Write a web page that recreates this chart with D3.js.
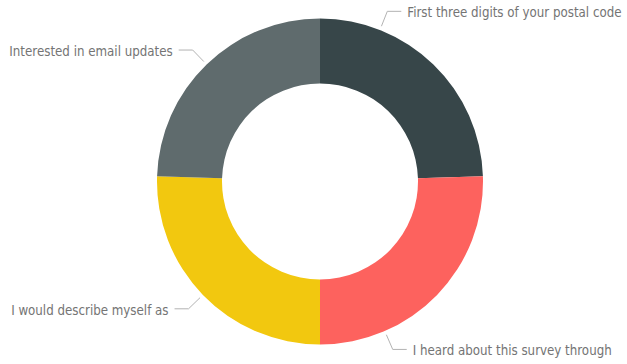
<!DOCTYPE html>
<html>
<head>
<meta charset="utf-8">
<style>
  body { margin: 0; background: #fff; }
  .lbl { font-family: 'DejaVu Sans Condensed', sans-serif; font-size: 13.2px; fill: #747474; }
</style>
</head>
<body>
<svg id="chart" width="627" height="364"></svg>
<script src="https://cdn.jsdelivr.net/npm/d3@7"></script>
<script>
// survey fields (count of responses)
const categories = [
  "First three digits of your postal code",
  "I heard about this survey through",
  "I would describe myself as",
  "Interested in email updates"
];
const counts = [24, 25, 25, 24];
const colors = ["#374649", "#FD625E", "#F2C80F", "#5F6B6D"];

const width = 627, height = 364;
const cx = 320, cy = 181.5;
const outerR = 163, innerR = 98;

const data = categories.map((c, i) => ({ name: c, value: counts[i], color: colors[i] }));

const svg = d3.select("#chart");
const g = svg.append("g").attr("transform", `translate(${cx},${cy})`);

const pie = d3.pie().sort(null).value(d => d.value);
const arc = d3.arc().innerRadius(innerR).outerRadius(outerR);
const arcs = pie(data);

g.selectAll("path.slice").data(arcs).enter().append("path")
  .attr("class", "slice")
  .attr("d", arc)
  .attr("fill", d => d.data.color);

// labels with leader lines
const elbowR = outerR + 20;
const lineStart = d3.arc().innerRadius(outerR + 4).outerRadius(outerR + 4);
const lineElbow = d3.arc().innerRadius(elbowR).outerRadius(elbowR);

const labels = g.selectAll("g.label").data(arcs).enter().append("g").attr("class", "label");

labels.each(function(d) {
  const sel = d3.select(this);
  const text = sel.append("text").attr("class", "lbl").attr("dy", "0.36em").text(d.data.name);
  const tw = text.node().getComputedTextLength();
  let a = (d.startAngle + d.endAngle) / 2;
  const right = a < Math.PI;
  // rotate the anchor toward the vertical until the text fits in the frame
  for (let k = 0; k < 4; k++) {
    const ex = elbowR * Math.sin(a);
    const room = right ? (width - cx) - (ex + 21) : (cx + ex) - 21;
    if (room >= tw + 2) break;
    const target = right ? (a < Math.PI / 2 ? 0 : Math.PI) : (a < 3 * Math.PI / 2 ? Math.PI : 2 * Math.PI);
    a += Math.sign(target - a) * Math.PI / 8;
  }
  const p0 = lineStart.centroid({ startAngle: a, endAngle: a });
  const p1 = lineElbow.centroid({ startAngle: a, endAngle: a });
  const p2 = [p1[0] + (right ? 14 : -14), p1[1]];
  sel.insert("polyline", "text")
    .attr("points", [p0, p1, p2].map(p => p.join(",")).join(" "))
    .attr("fill", "none")
    .attr("stroke", "#b3b3b3")
    .attr("stroke-width", 1);
  text.attr("x", p2[0] + (right ? 6 : -6))
    .attr("y", p2[1] + 1)
    .attr("text-anchor", right ? "start" : "end");
});
</script>
</body>
</html>
